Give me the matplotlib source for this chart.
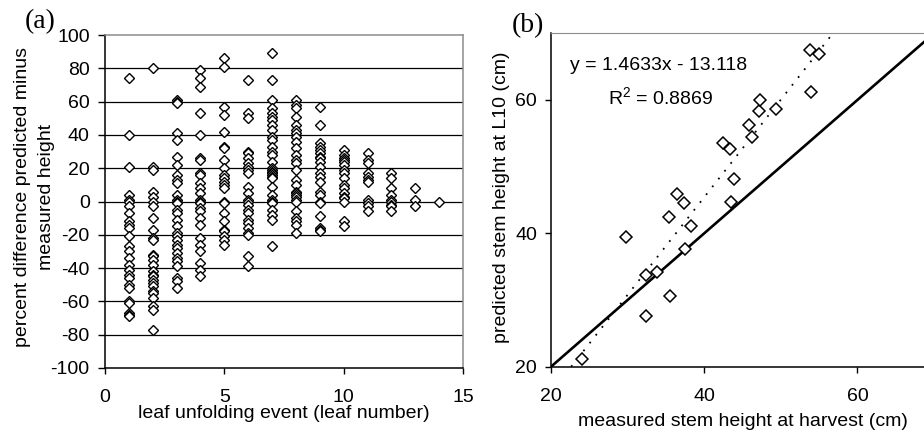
import numpy as np
import matplotlib
matplotlib.use("Agg")
import matplotlib.pyplot as plt

plt.rcParams['font.family'] = ['Liberation Sans', 'DejaVu Sans']
plt.rcParams['mathtext.fontset'] = 'custom'
plt.rcParams['mathtext.rm'] = 'Liberation Sans'
plt.rcParams['mathtext.it'] = 'Liberation Sans'
plt.rcParams['axes.unicode_minus'] = False

# ---------------- data panel (a) ----------------
leaf_events = [1, 2, 3, 4, 5, 6, 7, 8, 9, 10, 11, 12, 13, 14]
pct_diff = {
    1: [74, 40, 21, 4, 1, 0, -3, -7, -12, -14, -16, -21, -27, -30, -34, -38, -41, -44, -46, -50, -52, -60, -61, -67, -68, -69],
    2: [80, 21, 19, 6, 3, 0, -3, -10, -17, -22, -23, -32, -33, -35, -38, -42, -44, -45, -47, -49, -51, -54, -55, -58, -63, -65, -77],
    3: [61, 60, 59, 41, 37, 27, 22, 16, 13, 11, 4, 1, 0, -1, -5, -7, -11, -15, -19, -21, -23, -26, -28, -31, -34, -36, -39, -46, -48, -52],
    4: [79, 74, 69, 53, 40, 26, 25, 17, 16, 11, 8, 5, 1, 0, -1, -4, -6, -10, -14, -22, -26, -30, -37, -41, -45],
    5: [86, 81, 57, 52, 42, 33, 32, 25, 20, 16, 14, 12, 10, 8, 0, -1, -7, -12, -17, -18, -21, -23, -26],
    6: [73, 53, 50, 30, 29, 26, 23, 21, 19, 17, 9, 5, 1, 0, -2, -5, -7, -11, -13, -16, -19, -20, -33, -39],
    7: [89, 73, 61, 56, 53, 51, 49, 46, 43, 39, 37, 33, 30, 28, 24, 20, 19, 18, 17, 16, 15, 14, 9, 4, 1, 0, -1, -5, -8, -11, -27],
    8: [61, 58, 56, 51, 46, 43, 41, 39, 36, 32, 28, 25, 23, 19, 13, 10, 6, 5, 4, 3, 1, 0, -6, -10, -12, -14, -19],
    9: [57, 46, 35, 33, 31, 29, 27, 26, 24, 21, 17, 15, 12, 6, 4, 0, -1, -9, -16, -17, -18],
    10: [31, 28, 26, 25, 24, 22, 19, 17, 14, 10, 8, 5, 3, 2, 0, -12, -15],
    11: [29, 25, 23, 17, 15, 13, 12, 1, -1, -3, -6],
    12: [17, 14, 8, 4, 1, 0, -2, -3, -6],
    13: [8, 1, -3],
    14: [0],
}
a_xticks = [0, 5, 10, 15]
a_yticks = [-100, -80, -60, -40, -20, 0, 20, 40, 60, 80, 100]

# ---------------- data panel (b) ----------------
measured = [24.0, 29.8, 32.4, 33.8, 32.4, 35.6, 35.4, 36.5, 37.3, 38.3, 37.5,
            42.4, 43.4, 43.9, 43.5, 45.9, 46.3, 47.2, 47.3, 49.4, 53.8, 55.0, 53.9]
predicted = [21.2, 39.4, 33.7, 34.2, 27.6, 30.6, 42.4, 45.9, 44.6, 41.1, 37.7,
             53.6, 52.7, 48.1, 44.7, 56.3, 54.5, 58.4, 60.0, 58.7, 67.5, 66.9, 61.2]
trend_slope = 1.4633
trend_intercept = -13.118
b_ticks = [20, 40, 60]

W, H = 924, 437
fig = plt.figure(figsize=(W / 100, H / 100), dpi=100)

FS = 14
gray = '#8c8c8c'

# ---------------- panel (a) ----------------
ax1 = fig.add_axes([105 / W, 1 - 368 / H, (463 - 105) / W, (368 - 35) / H])
xs, ys = [], []
for k in leaf_events:
    for v in pct_diff[k]:
        xs.append(k)
        ys.append(v)
ax1.set_xlim(0, 15)
ax1.set_ylim(-100, 100)
for yv in a_yticks[1:-1]:
    ax1.axhline(yv, color='black', lw=0.9, zorder=1)
ax1.plot(xs, ys, linestyle='none', marker='D', ms=5.5, mfc='white', mec='black',
         mew=1.0, zorder=3)
ax1.set_xticks(a_xticks)
ax1.set_yticks(a_yticks)
ax1.tick_params(axis='y', direction='out', length=5, width=1, labelsize=FS, pad=6)
ax1.tick_params(axis='x', direction='out', length=4, width=1, labelsize=FS, pad=11)
for s in ['left', 'bottom']:
    ax1.spines[s].set_linewidth(1.1)
ax1.spines['top'].set_color(gray)
ax1.spines['right'].set_color(gray)
ax1.spines['top'].set_linewidth(1.1)
ax1.spines['right'].set_linewidth(1.1)
ax1.set_xlabel('leaf unfolding event (leaf number)', fontsize=FS)
ax1.xaxis.set_label_coords(0.5, (368 - 413) / 333, transform=ax1.transAxes)
ax1.xaxis.label.set_va('center')
ax1.set_ylabel('percent difference predicted minus\nmeasured height', fontsize=FS,
               linespacing=1.6)
ax1.yaxis.set_label_coords((34.5 - 105) / 358, (368 - 197) / 333, transform=ax1.transAxes)
ax1.yaxis.label.set_va('center')
fig.text(25 / W, 1 - 22 / H, '(a)', fontsize=20, family='Liberation Serif',
         ha='left', va='center')

# ---------------- panel (b) ----------------
ax2 = fig.add_axes([551 / W, 1 - 366.7 / H, (934 - 551) / W, (366.7 - 33.3) / H])
ax2.set_xlim(20, 70)
ax2.set_ylim(20, 70)
ax2.plot([20, 70], [20, 70], color='black', lw=1.9, zorder=2, clip_on=True)
tx = np.array([(20 - trend_intercept) / trend_slope, (70 - trend_intercept) / trend_slope])
ax2.plot(tx, trend_slope * tx + trend_intercept, color='black', lw=1.3,
         linestyle=(0, (1, 4.5)), zorder=2)
ax2.plot(measured, predicted, linestyle='none', marker='D', ms=6.5, mfc='white',
         mec='black', mew=1.1, zorder=3)
ax2.set_xticks(b_ticks)
ax2.set_yticks(b_ticks)
ax2.tick_params(axis='y', direction='out', length=4, width=1, labelsize=FS, pad=6)
ax2.tick_params(axis='x', direction='out', length=4, width=1, labelsize=FS, pad=11)
for s in ['left', 'bottom']:
    ax2.spines[s].set_linewidth(1.1)
ax2.spines['top'].set_color(gray)
ax2.spines['right'].set_color(gray)
ax2.set_xlabel('measured stem height at harvest (cm)', fontsize=FS)
ax2.xaxis.set_label_coords(0.5, (366.7 - 421.7) / 333.4, transform=ax2.transAxes)
ax2.xaxis.label.set_va('center')
ax2.set_ylabel('predicted stem height at L10 (cm)', fontsize=FS)
ax2.yaxis.set_label_coords((501.7 - 551) / 383, (366.7 - 197) / 333.4, transform=ax2.transAxes)
ax2.yaxis.label.set_va('center')
ax2.text(570 / W, 1 - 65 / H, 'y = 1.4633x - 13.118', transform=fig.transFigure,
         fontsize=FS, ha='left', va='center')
ax2.text(608 / W, 1 - 97 / H, 'R$^{2}$ = 0.8869', transform=fig.transFigure,
         fontsize=FS, ha='left', va='center')
fig.text(512 / W, 1 - 26 / H, '(b)', fontsize=20, family='Liberation Serif',
         ha='left', va='center')

fig.savefig('out.png', dpi=100)
